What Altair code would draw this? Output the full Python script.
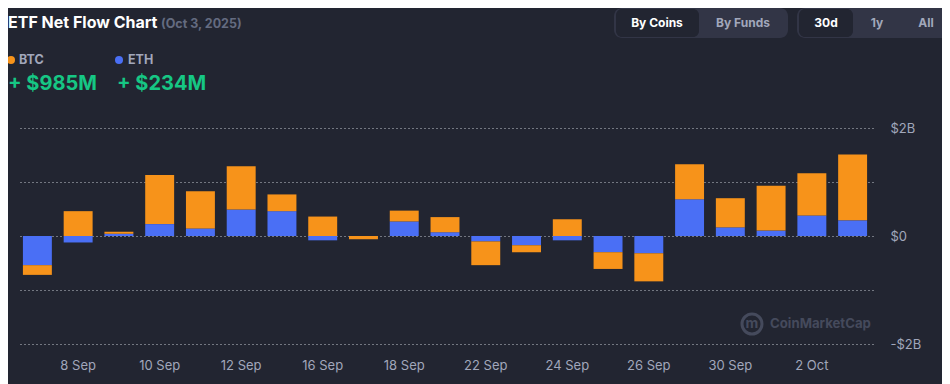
import altair as alt
import pandas as pd

# ---- data (values in $B) ----
dates = ["5 Sep", "8 Sep", "9 Sep", "10 Sep", "11 Sep", "12 Sep", "15 Sep", "16 Sep",
         "17 Sep", "18 Sep", "19 Sep", "22 Sep", "23 Sep", "24 Sep", "25 Sep", "26 Sep",
         "29 Sep", "30 Sep", "1 Oct", "2 Oct", "3 Oct"]
btc = [-0.18, 0.46, 0.04, 0.91, 0.69, 0.80, 0.31, 0.36, -0.06, 0.20, 0.28,
       -0.44, -0.13, 0.31, -0.31, -0.52, 0.65, 0.54, 0.83, 0.78, 1.22]
eth = [-0.54, -0.12, 0.04, 0.22, 0.14, 0.49, 0.46, -0.08, 0.0, 0.27, 0.07,
       -0.10, -0.17, -0.08, -0.30, -0.32, 0.68, 0.16, 0.10, 0.38, 0.29]
shown_dates = ["8 Sep", "10 Sep", "12 Sep", "16 Sep", "18 Sep", "22 Sep",
               "24 Sep", "26 Sep", "30 Sep", "2 Oct"]
series = ["ETH", "BTC"]
series_colors = ["#4A6FF5", "#F7931A"]
grid_values = [-2, -1, 0, 1, 2]
btc_total = "+ $985M"
eth_total = "+ $234M"

BG = "#222531"
GREY = "#A1A7BB"
FONT = "Inter"

rows = []
for i, d in enumerate(dates):
    rows.append({"date": d, "coin": "ETH", "ord": 0, "value": eth[i]})
    rows.append({"date": d, "coin": "BTC", "ord": 1, "value": btc[i]})
df = pd.DataFrame(rows)

W, H = 856, 216

bars = alt.Chart(df).mark_bar().encode(
    x=alt.X("date:N", sort=dates,
            scale=alt.Scale(paddingInner=0.29, paddingOuter=0.145),
            axis=alt.Axis(values=shown_dates, title=None, labelAngle=0, ticks=False,
                          domain=False, labelPadding=15, labelColor=GREY,
                          labelFontSize=13, labelFont=FONT, grid=False)),
    y=alt.Y("value:Q", stack="zero",
            scale=alt.Scale(domain=[-2, 2], nice=False, zero=True),
            axis=alt.Axis(orient="right", values=grid_values, title=None, ticks=False,
                          domain=False, labelPadding=17, labelColor=GREY,
                          labelFontSize=13, labelFont=FONT,
                          labelExpr="datum.value == 2 ? '$2B' : datum.value == 0 ? '$0' : datum.value == -2 ? '-$2B' : ''",
                          grid=True, gridDash=[1, 3], gridColor="#d8dbe4",
                          gridOpacity=0.9, gridWidth=1)),
    color=alt.Color("coin:N", scale=alt.Scale(domain=series, range=series_colors), legend=None),
    order=alt.Order("ord:Q"),
)

one = pd.DataFrame({"k": [0]})


def txt(text, x, y, size, color, weight="normal", align="left"):
    return alt.Chart(one).mark_text(
        text=text, align=align, baseline="middle", font=FONT, fontSize=size,
        fontWeight=weight, color=color,
    ).encode(x=alt.value(x), y=alt.value(y))


def box(x, x2, y, y2, fill, r=6):
    return alt.Chart(one).mark_rect(color=fill, cornerRadius=r).encode(
        x=alt.value(x), x2=alt.value(x2), y=alt.value(y), y2=alt.value(y2))


def dot(x, y, color, size=64):
    return alt.Chart(one).mark_point(shape="circle", filled=True, color=color, size=size,
                                     opacity=1).encode(x=alt.value(x), y=alt.value(y))


decor = [
    txt("ETF Net Flow Chart", -9, -105, 16, "#FFFFFF", "bold"),
    txt("(Oct 3, 2025)", 144, -104, 12.5, "#646B80", "bold"),
    dot(-6, -68, series_colors[1]),
    txt("BTC", 2, -68, 12.5, GREY, "bold"),
    dot(102, -68, series_colors[0]),
    txt("ETH", 111, -68, 12.5, GREY, "bold"),
    txt(btc_total, -9, -44, 20, "#16C784", "bold"),
    txt(eth_total, 100, -44, 20, "#16C784", "bold"),
    # toggle buttons
    box(597, 771, -120, -90, "#323546", 8),
    box(599, 682, -119, -91, BG, 6),
    txt("By Coins", 640, -105, 12, "#FFFFFF", "bold", "center"),
    txt("By Funds", 726, -105, 12, GREY, "bold", "center"),
    box(780, 932, -120, -90, "#323546", 8),
    box(782, 836, -119, -91, BG, 6),
    txt("30d", 809, -105, 12, "#FFFFFF", "bold", "center"),
    txt("1y", 860, -105, 12, GREY, "bold", "center"),
    txt("All", 909, -105, 12, GREY, "bold", "center"),
    # watermark
    alt.Chart(one).mark_point(shape="circle", filled=False, color="#454a5c", size=400,
                              strokeWidth=3, opacity=1).encode(x=alt.value(735), y=alt.value(196)),
    txt("m", 735, 196, 14, "#454a5c", "bold", "center"),
    txt("CoinMarketCap", 753, 196, 13.2, "#454a5c", "bold"),
]

chart = alt.layer(bars, *decor).properties(
    width=W, height=H,
    autosize=alt.AutoSizeParams(type="none"),
    padding={"left": 9, "top": 120, "right": 69, "bottom": 40},
).configure(background=BG).configure_view(stroke=None)

chart.save("out.html", embed_options={"renderer": "svg", "actions": False})
